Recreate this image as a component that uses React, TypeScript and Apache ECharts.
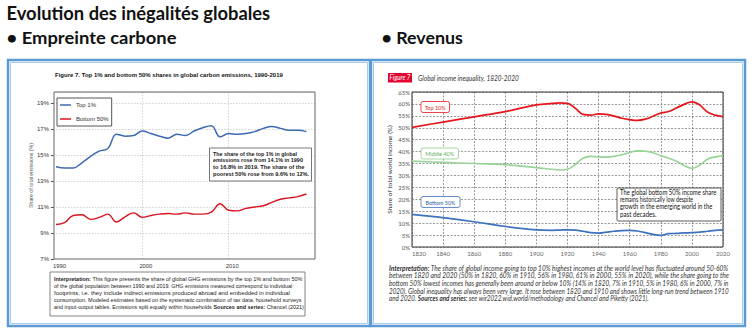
import React, { useEffect, useRef } from 'react';
import * as echarts from 'echarts';

// ---------- DATA ----------
const carbonYears = [1990, 1991, 1992, 1993, 1994, 1995, 1996, 1997, 1998, 1999, 2000, 2001, 2002, 2003, 2004, 2005, 2006, 2007, 2008, 2009, 2010, 2011, 2012, 2013, 2014, 2015, 2016, 2017, 2018, 2019];
const top1Carbon = [14.1, 14.0, 14.0, 14.4, 14.9, 15.3, 15.5, 16.6, 16.45, 16.5, 16.85, 16.65, 16.45, 16.3, 16.6, 16.5, 16.85, 17.1, 17.25, 16.4, 16.65, 16.6, 16.65, 16.8, 17.05, 17.2, 17.05, 16.9, 16.9, 16.8];
const bottom50Carbon = [9.65, 9.8, 10.35, 10.4, 10.05, 10.2, 10.45, 9.85, 10.25, 10.55, 10.2, 10.35, 10.45, 10.5, 10.45, 10.55, 10.45, 10.45, 10.6, 11.25, 10.75, 10.7, 10.9, 11.0, 11.1, 11.35, 11.6, 11.7, 11.8, 12.0];

const incomeYears = [1820, 1840, 1860, 1880, 1900, 1910, 1915, 1920, 1925, 1930, 1935, 1940, 1945, 1950, 1955, 1960, 1965, 1970, 1975, 1980, 1985, 1990, 1995, 2000, 2005, 2010, 2015, 2020];
const top10Income = [50.2, 52.4, 54.6, 56.8, 59.6, 60.2, 60.4, 60.2, 58.2, 55.6, 55.3, 55.8, 55.6, 54.9, 54.0, 53.4, 53.1, 53.6, 54.8, 56.2, 56.8, 58.3, 59.8, 60.9, 59.6, 56.6, 55.3, 54.7];
const middle40Income = [36.0, 35.5, 35.0, 34.5, 33.3, 32.6, 32.3, 32.6, 34.6, 37.2, 38.0, 37.8, 37.7, 38.0, 38.7, 39.6, 40.3, 40.2, 39.5, 38.3, 37.3, 36.0, 34.2, 33.0, 34.3, 36.8, 37.8, 38.2];
const bottom50Income = [13.7, 12.3, 10.6, 8.6, 7.2, 7.0, 7.1, 7.2, 7.1, 6.6, 6.0, 5.8, 6.2, 6.6, 6.9, 7.0, 6.7, 6.0, 5.3, 4.9, 5.6, 5.7, 5.9, 6.0, 6.2, 6.6, 7.0, 7.2];

const carbonSeriesNames = ['Top 1%', 'Bottom 50%'];
const incomeLabels = ['Top 10%', 'Middle 40%', 'Bottom 50%'];

// ---------- STYLE ----------
const FONT_A = "'Liberation Sans', Arial, sans-serif";
const FONT_C = "Lato, 'Open Sans', sans-serif";
const BORDER_BLUE = '#5b9bd5';
const C_TOP1 = '#3d69b3';
const C_BOT50 = '#d8141f';
const C_TOP10 = '#e8141b';
const C_MID40 = '#98d495';
const C_BOT50I = '#3e72c0';

let _ctx: CanvasRenderingContext2D | null = null;
function textWidth(text: string, font: string): number {
  if (!_ctx) _ctx = document.createElement('canvas').getContext('2d');
  _ctx!.font = font;
  return _ctx!.measureText(text).width;
}

type Seg = { t: string; b?: boolean };
type LineOpts = { size: number; family: string; italic?: boolean; bold?: boolean; color: string; align?: string; z?: number };

function fitLine(segs: Seg[], x: number, y: number, width: number, o: LineOpts) {
  const st = o.italic ? 'italic' : 'normal';
  let w = 0;
  for (const s of segs) {
    const wt = s.b || o.bold ? 'bold' : 'normal';
    w += textWidth(s.t, `${st} ${wt} ${o.size}px ${o.family}`);
  }
  const sx = w > 0 ? width / w : 1;
  const text = segs.map((s) => (s.b ? `{b|${s.t}}` : `{n|${s.t}}`)).join('');
  const base = { fontSize: o.size, fontFamily: o.family, fontStyle: st, fill: o.color, color: o.color };
  const align = o.align || 'left';
  return {
    type: 'text',
    x,
    y,
    scaleX: sx,
    z: o.z ?? 100,
    style: {
      text,
      rich: {
        b: { ...base, fontWeight: 'bold' },
        n: { ...base, fontWeight: o.bold ? 'bold' : 'normal' },
      },
      fontSize: o.size,
      fontFamily: o.family,
      fontStyle: st,
      fill: o.color,
      align,
      textAlign: align,
      verticalAlign: 'middle',
      textVerticalAlign: 'middle',
    },
  };
}

function box(x: number, y: number, w: number, h: number, stroke: string, lw: number, r = 0, fill = '#fff', z = 90) {
  return { type: 'rect', z, shape: { x, y, width: w, height: h, r }, style: { fill, stroke, lineWidth: lw } };
}

function buildOption() {
  const graphics: any[] = [];

  // Slide titles
  graphics.push(fitLine([{ t: 'Evolution des inégalités globales' }], 6.5, 13.5, 264, { size: 18, family: FONT_C, bold: true, color: '#111' }));
  graphics.push(fitLine([{ t: '• Empreinte carbone' }], 6.5, 38, 170, { size: 16.5, family: FONT_C, bold: true, color: '#111' }));
  graphics.push(fitLine([{ t: '• Revenus' }], 381.5, 38, 81.5, { size: 16.5, family: FONT_C, bold: true, color: '#111' }));

  // Panels
  graphics.push(box(8, 60, 362, 266, BORDER_BLUE, 2.5, 0, 'none', 5));
  graphics.push(box(10.5, 62.5, 357, 261, '#a9cbea', 1, 0, 'none', 5));
  graphics.push(box(371, 60, 374, 266, BORDER_BLUE, 2.5, 0, 'none', 5));
  graphics.push(box(373.5, 62.5, 369, 261, '#a9cbea', 1, 0, 'none', 5));

  // ---- Left chart ----
  graphics.push(fitLine([{ t: 'Figure 7. Top 1% and bottom 50% shares in global carbon emissions, 1990-2019' }], 55, 75, 228, { size: 6, family: FONT_A, bold: true, color: '#111' }));
  // plot frame
  graphics.push({ type: 'rect', z: 60, shape: { x: 54, y: 92, width: 261, height: 167 }, style: { fill: 'none', stroke: '#666', lineWidth: 1 } });
  // annotation
  graphics.push(box(209.5, 148, 102, 33, '#555', 0.8, 0, '#fff', 90));
  const leftNote = [
    'The share of the top 1% in global',
    'emissions rose from 14.1% in 1990',
    'to 16.8% in 2019. The share of the',
    'poorest 50% rose from 9.6% to 12%.',
  ];
  const leftNoteW = [84, 90, 91.5, 96];
  leftNote.forEach((t, i) => graphics.push(fitLine([{ t }], 213, 153.5 + i * 6.9, leftNoteW[i], { size: 5.4, family: FONT_A, bold: true, color: '#1a1a1a' })));
  // interpretation box
  graphics.push(box(50, 272, 255, 44, '#666', 0.8, 0, '#fff', 90));
  const leftInterp: Seg[][] = [
    [{ t: 'Interpretation:', b: true }, { t: ' This figure presents the share of global GHG emissions by the top 1% and bottom 50%' }],
    [{ t: 'of the global population between 1990 and 2019. GHG emissions measured correspond to individual' }],
    [{ t: 'footprints, i.e. they include indirect emissions produced abroad and embedded in individual' }],
    [{ t: 'consumption. Modeled estimates based on the systematic combination of tax data, household surveys' }],
    [{ t: 'and input-output tables. Emissions split equally within households ' }, { t: 'Sources and series:', b: true }, { t: ' Chancel (2021)' }],
  ];
  const leftInterpW = [248.7, 238.7, 236, 247.7, 250];
  leftInterp.forEach((segs, i) => graphics.push(fitLine(segs, 54, 278.5 + i * 7.1, leftInterpW[i], { size: 5.6, family: FONT_A, color: '#222' })));

  // ---- Right chart ----
  graphics.push({ type: 'rect', z: 90, shape: { x: 388, y: 73, width: 24, height: 9.5 }, style: { fill: '#e4032e' } });
  graphics.push(fitLine([{ t: 'Figure 7' }], 389.5, 77.8, 21, { size: 6.8, family: FONT_C, italic: true, color: '#fff' }));
  graphics.push(fitLine([{ t: 'Global income inequality, 1820-2020' }], 418, 77.5, 101, { size: 7, family: FONT_C, italic: true, color: '#333' }));

  // series labels
  const lblBoxes = [
    { x: 421, y: 101.5, w: 28.5, h: 11, c: C_TOP10, tc: '#e32119', tw: 21 },
    { x: 421, y: 148, w: 37.5, h: 11, c: '#8fcc8b', tc: '#5fb35a', tw: 29 },
    { x: 421, y: 196.5, w: 39, h: 11, c: C_BOT50I, tc: '#2c5fa8', tw: 30 },
  ];
  lblBoxes.forEach((b, i) => {
    graphics.push(box(b.x, b.y, b.w, b.h, b.c, 0.8, 2, '#fff', 90));
    graphics.push(fitLine([{ t: incomeLabels[i] }], b.x + (b.w - b.tw) / 2, b.y + b.h / 2, b.tw, { size: 6.5, family: FONT_C, color: b.tc }));
  });

  // annotation
  graphics.push(box(617, 188, 104, 33, '#333', 0.8, 1, '#fff', 90));
  const rightNote = ['The global bottom 50% income share', 'remains historically low despite', 'growth in the emerging world in the', 'past decades.'];
  const rightNoteW = [96.5, 73.5, 92.5, 36.5];
  rightNote.forEach((t, i) => graphics.push(fitLine([{ t }], 620, 192.3 + i * 7.25, rightNoteW[i], { size: 6.6, family: FONT_C, color: '#111' })));

  // interpretation
  const rightInterp: Seg[][] = [
    [{ t: 'Interpretation:', b: true }, { t: ' The share of global income going to top 10% highest incomes at the world level has fluctuated around 50-60%' }],
    [{ t: 'between 1820 and 2020 (50% in 1820, 60% in 1910, 56% in 1980, 61% in 2000, 55% in 2020), while the share going to the' }],
    [{ t: 'bottom 50% lowest incomes has generally been around or below 10% (14% in 1820, 7% in 1910, 5% in 1980, 6% in 2000, 7% in' }],
    [{ t: '2020). Global inequality has always been very large. It rose between 1820 and 1910 and shows little long-run trend between 1910' }],
    [{ t: 'and 2020. ' }, { t: 'Sources and series:', b: true }, { t: ' see wir2022.wid.world/methodology and Chancel and Piketty (2021).' }],
  ];
  const rightInterpW = [340, 340, 340, 340, 260];
  rightInterp.forEach((segs, i) => graphics.push(fitLine(segs, 389, 268.3 + i * 7.6, rightInterpW[i], { size: 6.6, family: FONT_C, italic: true, color: '#333' })));

  const dotted = { color: '#c8c8c8', type: [1.5, 1.5], width: 0.8 };
  const dashed = { color: '#555', type: [2, 1.5], width: 0.6 };
  const yearFmt = (v: number) => String(v);

  return {
    animation: false,
    backgroundColor: '#fff',
    textStyle: { fontFamily: FONT_A },
    legend: {
      data: carbonSeriesNames,
      orient: 'vertical',
      left: 57,
      top: 98,
      backgroundColor: '#fff',
      borderColor: '#555',
      borderWidth: 1,
      padding: [3, 3, 3, 3],
      itemGap: 6,
      itemWidth: 11,
      itemHeight: 1.5,
      icon: 'rect',
      textStyle: { fontSize: 6, fontFamily: FONT_A, color: '#333', lineHeight: 8 },
      z: 80,
    },
    grid: [
      { left: 56, top: 92, width: 259, height: 167, show: false },
      { left: 412, top: 92, width: 311, height: 155, show: true, borderColor: '#333', borderWidth: 1 },
    ],
    xAxis: [
      {
        type: 'value', gridIndex: 0, min: 1990, max: 2020, interval: 10,
        axisLine: { show: false }, axisTick: { show: false },
        axisLabel: { fontSize: 5.8, color: '#333', fontFamily: FONT_A, margin: 4, showMaxLabel: false, padding: [0, 0, 0, 7], formatter: yearFmt },
        splitLine: { show: true, showMinLine: false, showMaxLine: false, lineStyle: dotted },
      },
      {
        type: 'value', gridIndex: 1, min: 1820, max: 2020, interval: 20,
        axisLine: { show: false }, axisTick: { show: false },
        axisLabel: { fontSize: 6, color: '#666', fontFamily: FONT_C, margin: 3, alignMinLabel: 'left', formatter: yearFmt },
        splitLine: { show: true, lineStyle: dashed },
      },
    ],
    yAxis: [
      {
        type: 'value', gridIndex: 0, min: 7, max: 19.85, interval: 2, offset: 2,
        axisLine: { show: false },
        axisTick: { show: true, length: 3, lineStyle: { color: '#555' } },
        axisLabel: { fontSize: 6, color: '#333', fontFamily: FONT_A, formatter: '{value}%', margin: 5, showMaxLabel: false },
        splitLine: { show: true, showMinLine: false, lineStyle: dotted },
        name: 'Share of total emissions (%)', nameLocation: 'middle', nameGap: 21, nameRotate: 90,
        nameTextStyle: { fontSize: 5.2, color: '#555', fontFamily: FONT_A },
      },
      {
        type: 'value', gridIndex: 1, min: 0, max: 65, interval: 5,
        axisLine: { show: false }, axisTick: { show: false },
        axisLabel: { fontSize: 6, color: '#555', fontFamily: FONT_C, formatter: '{value}%', margin: 2 },
        splitLine: { show: true, lineStyle: dashed },
        name: 'Share of total world income (%)', nameLocation: 'middle', nameGap: 19, nameRotate: 90,
        nameTextStyle: { fontSize: 6.5, color: '#333', fontFamily: FONT_C },
      },
    ],
    series: [
      {
        name: carbonSeriesNames[0], type: 'line', xAxisIndex: 0, yAxisIndex: 0,
        data: carbonYears.map((y, i) => [y, top1Carbon[i]]),
        smooth: 0.4, showSymbol: false, lineStyle: { color: C_TOP1, width: 1.5 }, itemStyle: { color: C_TOP1 },
      },
      {
        name: carbonSeriesNames[1], type: 'line', xAxisIndex: 0, yAxisIndex: 0,
        data: carbonYears.map((y, i) => [y, bottom50Carbon[i]]),
        smooth: 0.4, showSymbol: false, lineStyle: { color: C_BOT50, width: 1.4 }, itemStyle: { color: C_BOT50 },
      },
      {
        name: 'Income ' + incomeLabels[0], type: 'line', xAxisIndex: 1, yAxisIndex: 1,
        data: incomeYears.map((y, i) => [y, top10Income[i]]),
        smooth: 0.4, showSymbol: false, lineStyle: { color: C_TOP10, width: 1.7 }, itemStyle: { color: C_TOP10 },
      },
      {
        name: 'Income ' + incomeLabels[1], type: 'line', xAxisIndex: 1, yAxisIndex: 1,
        data: incomeYears.map((y, i) => [y, middle40Income[i]]),
        smooth: 0.4, showSymbol: false, lineStyle: { color: C_MID40, width: 1.6 }, itemStyle: { color: C_MID40 },
      },
      {
        name: 'Income ' + incomeLabels[2], type: 'line', xAxisIndex: 1, yAxisIndex: 1,
        data: incomeYears.map((y, i) => [y, bottom50Income[i]]),
        smooth: 0.4, showSymbol: false, lineStyle: { color: C_BOT50I, width: 1.7 }, itemStyle: { color: C_BOT50I },
      },
    ],
    graphic: { elements: graphics },
  };
}

export default function App() {
  const ref = useRef<HTMLDivElement>(null);
  useEffect(() => {
    const chart = echarts.init(ref.current!, null, { renderer: 'svg' });
    chart.setOption(buildOption() as any);
    return () => chart.dispose();
  }, []);
  return <div ref={ref} style={{ position: 'fixed', left: 0, top: 0, width: 754, height: 336, background: '#fff' }} />;
}
